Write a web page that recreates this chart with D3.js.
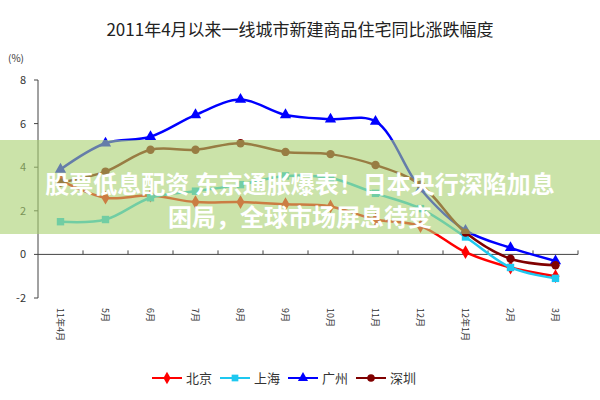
<!DOCTYPE html>
<html><head><meta charset="utf-8">
<script src="https://cdn.jsdelivr.net/npm/d3@7"></script>
<style>body{margin:0;background:#fff}svg{font-family:"Noto Sans CJK SC","Liberation Sans",sans-serif}</style>
</head><body><div id="chart"></div>
<script>
const months = ["11年4月","5月","6月","7月","8月","9月","10月","11月","12月","12年1月","2月","3月"];
const beijing = [3.4, 2.6, 2.7, 2.4, 2.4, 2.3, 2.2, 1.6, 1.3, 0.1, -0.6, -1.0];
const shanghai = [1.5, 1.6, 2.6, 2.9, 3.2, 3.6, 3.5, 2.8, 2.1, 0.8, -0.6, -1.1];
const guangzhou = [3.9, 5.1, 5.4, 6.4, 7.1, 6.4, 6.2, 6.1, 3.0, 1.1, 0.3, -0.3];
const shenzhen = [3.3, 3.8, 4.8, 4.8, 5.1, 4.7, 4.6, 4.1, 3.2, 1.0, -0.2, -0.5];
const yTicks = [-2, 0, 2, 4, 6, 8];

const series = [
  {name: "北京", values: beijing, color: "#ff0000", shape: d3.symbolDiamond},
  {name: "上海", values: shanghai, color: "#1ec8f0", shape: d3.symbolSquare},
  {name: "广州", values: guangzhou, color: "#0000ff", shape: d3.symbolTriangle},
  {name: "深圳", values: shenzhen, color: "#800000", shape: d3.symbolCircle}
];

const svg = d3.select("#chart").append("svg").attr("width", 600).attr("height", 400);

const x = d3.scaleBand().domain(months).range([38, 578]);
const y = d3.scaleLinear().domain([-2, 8]).range([298, 80]);
const cx = d => x(d) + x.bandwidth() / 2;

svg.append("text").attr("x", 300).attr("y", 36).attr("text-anchor", "middle")
  .attr("font-size", 17).attr("fill", "#222").text("2011年4月以来一线城市新建商品住宅同比涨跌幅度");
svg.append("text").attr("x", 8).attr("y", 62).attr("font-size", 10).attr("fill", "#333").text("(%)");

// y axis
svg.append("line").attr("x1", 38).attr("x2", 38).attr("y1", y(8)).attr("y2", y(-2)).attr("stroke", "#444");
yTicks.forEach(t => {
  svg.append("line").attr("x1", 34).attr("x2", 38).attr("y1", y(t)).attr("y2", y(t)).attr("stroke", "#444");
  svg.append("text").attr("x", 26).attr("y", y(t) + 4).attr("text-anchor", "end")
    .attr("font-size", 11).attr("fill", "#333").text(t);
});

// x axis at zero
svg.append("line").attr("x1", 38).attr("x2", 578).attr("y1", y(0)).attr("y2", y(0)).attr("stroke", "#444");
months.forEach(m => {
  svg.append("line").attr("x1", x(m) + x.bandwidth()).attr("x2", x(m) + x.bandwidth())
    .attr("y1", y(0)).attr("y2", y(0) - 4).attr("stroke", "#444");
  svg.append("text").attr("transform", `translate(${cx(m) - 4},${308}) rotate(90)`)
    .attr("font-size", 9).attr("fill", "#333").text(m);
});

const line = d3.line().x((d, i) => cx(months[i])).y(d => y(d)).curve(d3.curveCatmullRom.alpha(0.5));

series.forEach(s => {
  svg.append("path").attr("d", line(s.values)).attr("fill", "none")
    .attr("stroke", s.color).attr("stroke-width", 2.5);
  svg.selectAll(null).data(s.values).enter().append("path")
    .attr("transform", (d, i) => `translate(${cx(months[i])},${y(d)})`)
    .attr("d", d3.symbol().type(s.shape).size(55)).attr("fill", s.color);
});

// legend
const lg = svg.append("g").attr("transform", "translate(152,378)");
series.forEach((s, i) => {
  const g = lg.append("g").attr("transform", `translate(${i * 68},0)`);
  g.append("line").attr("x1", 0).attr("x2", 30).attr("stroke", s.color).attr("stroke-width", 2);
  g.append("path").attr("transform", "translate(15,0)").attr("d", d3.symbol().type(s.shape).size(45)).attr("fill", s.color);
  g.append("text").attr("x", 34).attr("y", 5).attr("font-size", 13).attr("fill", "#333").text(s.name);
});

// overlay banner
svg.append("rect").attr("x", 0).attr("y", 140).attr("width", 600).attr("height", 94)
  .attr("fill", "#a8d070").attr("opacity", 0.6);
svg.append("text").attr("x", 300).attr("y", 193).attr("text-anchor", "middle")
  .attr("font-size", 24).attr("font-weight", "bold").attr("fill", "#fff").text("股票低息配资 东京通胀爆表！日本央行深陷加息");
svg.append("text").attr("x", 300).attr("y", 226).attr("text-anchor", "middle")
  .attr("font-size", 24).attr("font-weight", "bold").attr("fill", "#fff").text("困局，全球市场屏息待变");
</script></body></html>
